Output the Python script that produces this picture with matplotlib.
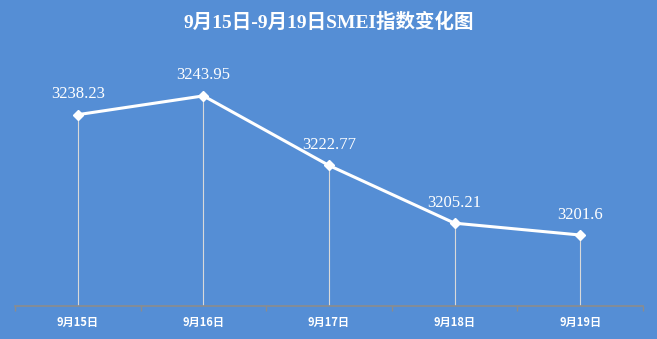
import matplotlib
matplotlib.use("Agg")
import matplotlib.pyplot as plt
import numpy as np

categories = ["9月15日", "9月16日", "9月17日", "9月18日", "9月19日"]
values = [3238.23, 3243.95, 3222.77, 3205.21, 3201.6]
value_labels = ["3238.23", "3243.95", "3222.77", "3205.21", "3201.6"]
title = "9月15日-9月19日SMEI指数变化图"

BG = "#558ED5"
W, H = 657, 339
fig = plt.figure(figsize=(W / 100, H / 100), dpi=100, facecolor=BG)
ax = fig.add_axes([15 / W, 33 / H, (643 - 15) / W, (306 - 76) / H])
ax.set_facecolor(BG)

x = np.arange(len(categories))
ax.set_xlim(-0.5, len(categories) - 0.5)
ax.set_ylim(3180, 3250)

# drop lines
ax.vlines(x, 3180, values, colors="#D9D9D9", linewidth=0.8, zorder=1)
# main line
ax.plot(x, values, color="white", linewidth=2.2, marker="D", markersize=5,
        markerfacecolor="white", markeredgecolor="white", zorder=3)

for xi, v, lab in zip(x, values, value_labels):
    ax.annotate(lab, (xi, v), xytext=(0, 9), textcoords="offset points",
                ha="center", va="bottom", color="white", fontsize=12,
                family=["Liberation Serif", "Noto Sans CJK SC"])

for s in ["top", "left", "right"]:
    ax.spines[s].set_visible(False)
ax.spines["bottom"].set_color("#8C8C8C")
ax.spines["bottom"].set_linewidth(1.2)
ax.set_yticks([])
ax.set_xticks(x)
ax.set_xticklabels(categories, fontsize=8, fontweight="bold", color="white",
                   family=["Noto Sans CJK SC", "DejaVu Sans"])
ax.tick_params(axis="x", which="major", length=0, pad=7)
ax.set_xticks(np.arange(-0.5, len(categories), 1.0), minor=True)
ax.tick_params(axis="x", which="minor", length=3.5, color="#8C8C8C", width=1)

fig.text(0.5, 1 - 22 / H, title, ha="center", va="center", color="white",
         fontsize=14, fontweight="bold",
         family=["Liberation Serif", "Noto Sans CJK SC"])

fig.savefig("out.png", dpi=100, facecolor=BG)
